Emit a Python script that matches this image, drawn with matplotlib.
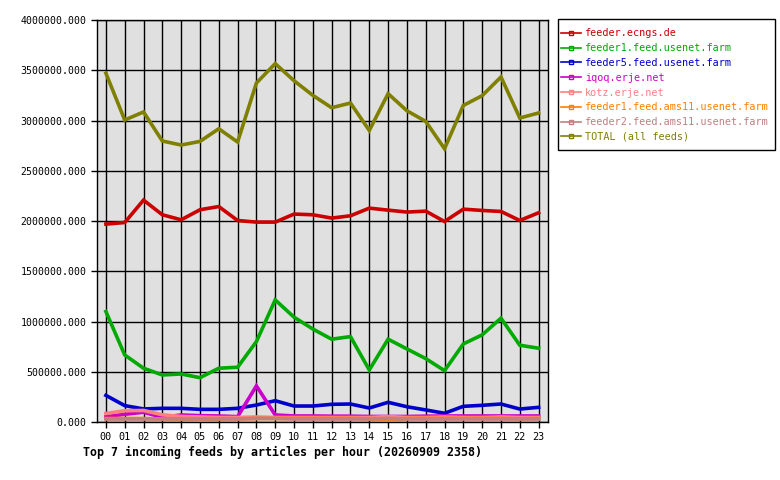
import numpy as np
import matplotlib
matplotlib.use("Agg")
import matplotlib.pyplot as plt
from matplotlib.lines import Line2D
from matplotlib.patches import Rectangle

# horas 00..23
hours = ["%02d" % h for h in range(24)]

feed_names = ["feeder.ecngs.de", "feeder1.feed.usenet.farm", "feeder5.feed.usenet.farm",
              "iqoq.erje.net", "kotz.erje.net", "feeder1.feed.ams11.usenet.farm",
              "feeder2.feed.ams11.usenet.farm", "TOTAL (all feeds)"]
feed_colors = ["#cc0000", "#00aa00", "#0000cc", "#cc00cc", "#ff8080", "#ff8000", "#c08080", "#808000"]

ecngs = [1969000, 1985000, 2208000, 2062000, 2012000, 2112000, 2144000, 2005000,
         1989000, 1989000, 2069000, 2062000, 2029000, 2052000, 2128000, 2108000,
         2089000, 2098000, 1995000, 2118000, 2105000, 2095000, 2005000, 2082000]
usenet1 = [1099000, 667000, 535000, 468000, 478000, 441000, 535000, 545000,
           800000, 1215000, 1043000, 925000, 824000, 850000, 518000, 824000,
           727000, 631000, 511000, 777000, 867000, 1033000, 764000, 734000]
usenet5 = [265000, 163000, 130000, 136000, 136000, 126000, 126000, 136000,
           169000, 212000, 159000, 159000, 176000, 179000, 139000, 196000,
           152000, 120000, 87000, 156000, 166000, 179000, 129000, 146000]
iqoq = [53000, 77000, 97000, 47000, 70000, 63000, 60000, 53000,
        359000, 70000, 60000, 60000, 58000, 58000, 55000, 55000,
        55000, 58000, 60000, 60000, 60000, 60000, 60000, 60000]
kotz = [85000, 112000, 115000, 72000, 55000, 50000, 45000, 45000,
        50000, 45000, 45000, 45000, 45000, 45000, 45000, 55000,
        45000, 45000, 50000, 45000, 45000, 50000, 45000, 45000]
ams11_1 = [35000, 35000, 35000, 30000, 30000, 15000, 30000, 30000,
           35000, 35000, 35000, 35000, 35000, 35000, 30000, 15000,
           35000, 35000, 35000, 35000, 35000, 35000, 30000, 35000]
ams11_2 = [30000, 30000, 30000, 30000, 30000, 30000, 30000, 30000,
           35000, 35000, 30000, 30000, 30000, 30000, 30000, 35000,
           30000, 30000, 30000, 30000, 30000, 30000, 30000, 30000]
total = [3470000, 3005000, 3085000, 2796000, 2756000, 2792000, 2918000, 2786000,
         3373000, 3566000, 3396000, 3250000, 3127000, 3174000, 2901000, 3267000,
         3097000, 2991000, 2719000, 3150000, 3247000, 3433000, 3025000, 3075000]

series = [ecngs, usenet1, usenet5, iqoq, kotz, ams11_1, ams11_2, total]

mono = "DejaVu Sans Mono"

fig = plt.figure(figsize=(7.8, 4.8), dpi=100)
ax = fig.add_axes([96.5 / 780, 1 - 422 / 480, (548 - 96.5) / 780, (422 - 20) / 480])
ax.set_facecolor("#e0e0e0")

x = np.arange(len(hours))
for vals, col in zip(series, feed_colors):
    ax.plot(x, vals, color=col, lw=2.6, solid_joinstyle="miter", zorder=3)

ax.set_xlim(-0.5, 23.5)
ax.set_ylim(0, 4000000)
ax.set_xticks(x)
ax.set_xticklabels(hours, fontfamily=mono, fontsize=7.3)
yt = np.arange(0, 4000001, 500000)
ax.set_yticks(yt)
ax.set_yticklabels(["%.3f" % v for v in yt], fontfamily=mono, fontsize=7.1)
ax.tick_params(length=4, width=1, color="black", pad=3)
ax.grid(True, color="black", lw=1, zorder=1)
ax.set_axisbelow(True)
for s in ax.spines.values():
    s.set_color("black")
    s.set_linewidth(1)

fig.text(83 / 780, 1 - 452 / 480, "Top 7 incoming feeds by articles per hour (20260909 2358)",
         fontfamily=mono, fontweight="bold", fontsize=8.4, va="center", ha="left")

# caja de la leyenda dibujada aparte
fig.patches.append(Rectangle((558 / 780, 1 - 150 / 480), 217 / 780, 131 / 480,
                             transform=fig.transFigure, fill=False, edgecolor="black", lw=1))

handles = [Line2D([0], [0], color=c, lw=1.2, marker="s", markersize=3,
                  markerfacecolor="none", markeredgecolor=c) for c in feed_colors]
leg = fig.legend(handles, feed_names, loc="upper left", bbox_to_anchor=(561 / 780, 1 - 28.5 / 480),
                 prop={"family": mono, "size": 7.3}, handlelength=2.0, handletextpad=0.35,
                 labelspacing=0.47, borderpad=0, borderaxespad=0, frameon=False)
for t, c in zip(leg.get_texts(), feed_colors):
    t.set_color(c)

fig.savefig("out.png", dpi=100)
